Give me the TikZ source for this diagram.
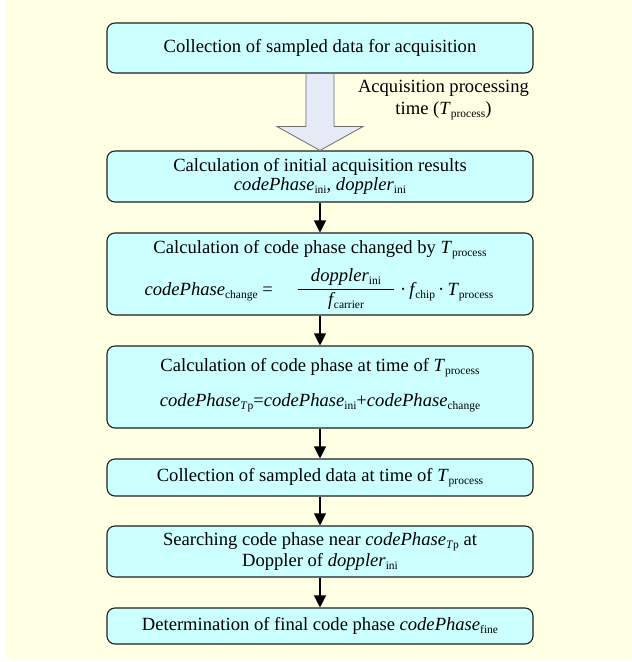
\documentclass[tikz,border=0pt]{standalone}
\usepackage{fontspec}
\setmainfont{Liberation Serif}
\usetikzlibrary{arrows.meta,calc}
\definecolor{bgyel}{HTML}{FFFFE3}
\definecolor{boxcyan}{HTML}{CCFFFF}
\definecolor{arrfill}{HTML}{E6EAF7}
\definecolor{arrline}{HTML}{6E6E6E}
\definecolor{boxline}{HTML}{202020}
\newcommand\lowsub[1]{\raisebox{-0.35ex}{\fontsize{11.5}{11.5}\selectfont #1}}
\newcommand\cph{\textit{codePhase}}
\newcommand\dopp{\textit{doppler}}
\newcommand\Tproc{\textit{T}\lowsub{process}}
\newcommand\ffreq{\textit{f}\kern-1.5pt}
\newcommand\Tpsub{\raisebox{-0.35ex}{\fontsize{11.5}{11.5}\selectfont\textit{T}p}}
\tikzset{
  flowbox/.style={draw=boxline, line width=1.1pt, fill=boxcyan, rounded corners=8pt,
    minimum width=426pt, inner sep=0pt, align=center},
  txt/.style={inner sep=0pt, align=center},
  flowarrow/.style={line width=1.1pt, -{Triangle[length=12pt,width=12pt]}}
}
\begin{document}
\begin{tikzpicture}[x=1pt,y=-1pt, font=\fontsize{18.6}{21}\selectfont]
\useasboundingbox (0,0) rectangle (632,662);
\fill[bgyel] (6,0) rectangle (632,660);
\node[flowbox, minimum height=50pt] (b1) at (320,48) {Collection of sampled data for acquisition};
\node[flowbox, minimum height=51pt] (b2) at (320,176.5) {Calculation of initial acquisition results\\[-2pt]\cph\lowsub{ini}, \dopp\lowsub{ini}};
\node[flowbox, minimum height=82pt] (b3) at (320,274) {};
\node[flowbox, minimum height=82pt] (b4) at (320,387) {};
\node[flowbox, minimum height=37pt] (b5) at (320,477.5) {Collection of sampled data at time of \Tproc};
\node[flowbox, minimum height=51pt] (b6) at (320,551.5) {Searching code phase near \cph\Tpsub{} at\\Doppler of \dopp\lowsub{ini}};
\node[flowbox, minimum height=36pt] (b7) at (320,626) {Determination of final code phase \cph\lowsub{fine}};
% box 3 content
\node[txt] (t3) at (320,250) {Calculation of code phase changed by \Tproc};
\node[txt, anchor=east] (lhs) at (273,292) {\cph\lowsub{change} =};
\node[txt] (frac) at (346,289) {$\displaystyle\frac{\mbox{\hspace{13pt}\dopp\lowsub{ini}\hspace{13pt}}}{\mbox{\ffreq\lowsub{carrier}}}$};
\node[txt, anchor=west] (rhs) at (400,292) {·\,\ffreq\lowsub{chip}\,·\,\Tproc};
% box 4 content
\node[txt] (t4) at (320,368) {Calculation of code phase at time of \Tproc};
\node[txt] (e4) at (320,403) {\cph\Tpsub{}=\cph\lowsub{ini}+\cph\lowsub{change}};
% big arrow
\draw[fill=arrfill, draw=arrline, line width=0.8pt]
  ($(b1.south)+(-14,0)$) -- ($(b1.south)+(14,0)$) -- ($(b1.south)+(14,53)$) -- ($(b1.south)+(43,53)$)
  -- (b2.north) -- ($(b1.south)+(-43,53)$) -- ($(b1.south)+(-14,53)$) -- cycle;
\node[txt] (lbl) at (443.5,100) {Acquisition processing\\[1pt]time (\Tproc)};
% small arrows
\draw[flowarrow] (b2.south) -- (b3.north);
\draw[flowarrow] (b3.south) -- (b4.north);
\draw[flowarrow] (b4.south) -- (b5.north);
\draw[flowarrow] (b5.south) -- (b6.north);
\draw[flowarrow] (b6.south) -- (b7.north);
\end{tikzpicture}
\end{document}
